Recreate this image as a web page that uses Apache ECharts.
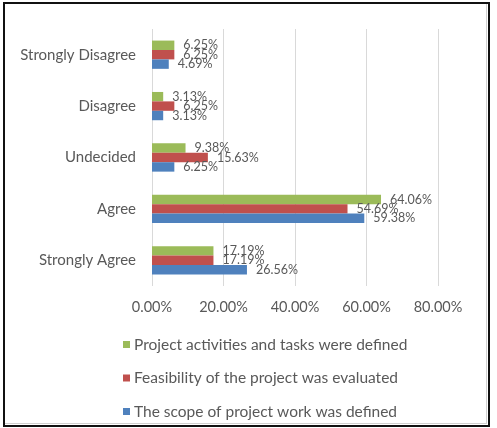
<!DOCTYPE html>
<html>
<head>
<meta charset="utf-8">
<script src="https://cdn.jsdelivr.net/npm/echarts@6/dist/echarts.min.js"></script>
<style>
  html, body { margin: 0; padding: 0; background: #fff; }
  #chart { position: absolute; left: 0; top: 0; width: 497px; height: 428px; }
  #frame {
    position: absolute; left: 3px; top: 2px; width: 483px; height: 421px;
    border: 2px solid #111; pointer-events: none;
  }
  #frame2 {
    position: absolute; left: 5px; top: 4px; width: 481px; height: 419px;
    border: 1px solid #d0d0d0; border-left: none; border-top: none; pointer-events: none;
  }
</style>
</head>
<body>
<div id="chart"></div>
<div id="frame"></div>
<div id="frame2"></div>
<script>
// categories, bottom to top
var categories = ['Strongly Agree', 'Agree', 'Undecided', 'Disagree', 'Strongly Disagree'];
// series, top bar to bottom bar within each group
var seriesNames = [
  'Project activities and tasks were defined',
  'Feasibility of the project was evaluated',
  'The scope of project work was defined'
];
var activitiesValues = [17.19, 64.06, 9.38, 3.13, 6.25];
var feasibilityValues = [17.19, 54.69, 15.63, 6.25, 6.25];
var scopeValues = [26.56, 59.38, 6.25, 3.13, 4.69];
var xTicks = [0, 20, 40, 60, 80];

var colors = ['#9BBB59', '#C0504D', '#4F81BD'];
var font = 'Lato, "Open Sans", sans-serif';

var chart = echarts.init(document.getElementById('chart'));

var series = [activitiesValues, feasibilityValues, scopeValues].map(function (vals, i) {
  return {
    name: seriesNames[i],
    type: 'bar',
    data: vals,
    barGap: '0%',
    barCategoryGap: '45%',
    itemStyle: { color: colors[i] },
    label: {
      show: true,
      position: 'right',
      distance: 9,
      color: '#595959',
      fontFamily: font,
      fontSize: 12.5,
      formatter: function (p) { return p.value.toFixed(2) + '%'; }
    }
  };
});

var option = {
  animation: false,
  grid: { left: 152, right: 59, top: 29, bottom: 142, containLabel: false },
  xAxis: {
    type: 'value',
    min: xTicks[0],
    max: xTicks[xTicks.length - 1],
    interval: 20,
    axisLine: { show: false },
    axisTick: { show: false },
    splitLine: { show: true, lineStyle: { color: '#d9d9d9', width: 1 } },
    axisLabel: {
      color: '#595959',
      fontFamily: font,
      fontSize: 14.5,
      margin: 14,
      formatter: function (v) { return v.toFixed(2) + '%'; }
    }
  },
  yAxis: {
    type: 'category',
    data: categories,
    axisLine: { show: false },
    axisTick: { show: false },
    axisLabel: { color: '#595959', fontFamily: font, fontSize: 15, margin: 16 }
  },
  legend: {
    orient: 'vertical',
    left: 118,
    top: 331,
    itemWidth: 7,
    itemHeight: 7,
    itemGap: 16.5,
    icon: 'rect',
    data: seriesNames,
    textStyle: { color: '#595959', fontFamily: font, fontSize: 15.5, lineHeight: 17, padding: [0, 0, 0, -1] }
  },
  series: series
};

chart.setOption(option);
</script>
</body>
</html>
